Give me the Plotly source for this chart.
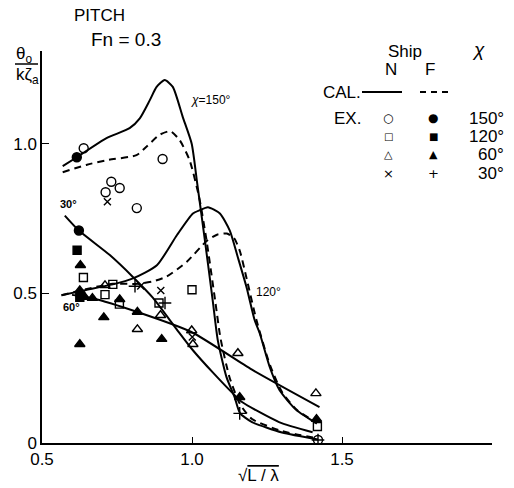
import plotly.graph_objects as go

# ---- measured response data: pitch amplitude vs sqrt(L/lambda), Fn = 0.3 ----
# experiment, ship N (open markers) and ship F (filled markers), per heading chi
n150_x = [0.639, 0.712, 0.731, 0.759, 0.816, 0.902, 1.42]
n150_y = [0.985, 0.838, 0.873, 0.852, 0.785, 0.949, 0.01]
f150_x = [0.616, 0.623]
f150_y = [0.955, 0.71]

n120_x = [0.638, 0.71, 0.736, 0.758, 0.89, 1.0, 1.418]
n120_y = [0.553, 0.496, 0.53, 0.464, 0.468, 0.512, 0.055]
f120_x = [0.617, 0.626]
f120_y = [0.644, 0.487]

n60_x = [0.71, 0.818, 0.895, 0.999, 1.003, 1.153, 1.413]
n60_y = [0.527, 0.38, 0.427, 0.376, 0.33, 0.30, 0.166]
f60_x = [0.628, 0.626, 0.642, 0.668, 0.706, 0.759, 0.818, 0.626, 0.899, 1.159, 1.415]
f60_y = [0.594, 0.51, 0.488, 0.484, 0.42, 0.48, 0.438, 0.33, 0.347, 0.153, 0.08]

n30_x = [0.718, 0.829, 0.896, 1.001]
n30_y = [0.806, 0.525, 0.51, 0.354]
f30_x = [0.81, 0.91, 1.159, 1.42]
f30_y = [0.524, 0.468, 0.099, 0.01]

# calculated curves (solid = ship N, dashed = ship F)
cal150n_x = [0.569, 0.616, 0.715, 0.792, 0.826, 0.859, 0.882, 0.909, 0.936, 0.969, 0.999,
             1.017, 1.04, 1.069, 1.086, 1.115, 1.142, 1.16, 1.2, 1.3, 1.42]
cal150n_y = [0.925, 0.955, 1.019, 1.052, 1.085, 1.145, 1.19, 1.213, 1.19, 1.09, 1.0,
             0.87, 0.70, 0.477, 0.343, 0.22, 0.153, 0.10, 0.07, 0.035, 0.012]
cal150f_x = [0.569, 0.65, 0.715, 0.815, 0.848, 0.892, 0.928, 0.959, 0.992, 1.024,
             1.048, 1.078, 1.095, 1.125, 1.16, 1.2, 1.3, 1.42]
cal150f_y = [0.905, 0.93, 0.945, 0.962, 0.99, 1.03, 1.042, 1.012, 0.945, 0.82,
             0.68, 0.47, 0.35, 0.22, 0.13, 0.08, 0.04, 0.015]

cal120n_x = [0.565, 0.64, 0.736, 0.803, 0.883, 0.95, 1.003, 1.026, 1.053, 1.093, 1.126,
             1.153, 1.182, 1.209, 1.226, 1.259, 1.292, 1.348, 1.416]
cal120n_y = [0.494, 0.51, 0.53, 0.55, 0.594, 0.695, 0.767, 0.778, 0.788, 0.767, 0.71,
             0.62, 0.52, 0.41, 0.366, 0.254, 0.176, 0.11, 0.065]
cal120f_x = [0.565, 0.65, 0.736, 0.82, 0.87, 0.915, 0.982, 1.049, 1.085, 1.116, 1.14,
             1.16, 1.182, 1.215, 1.26, 1.3, 1.35, 1.416]
cal120f_y = [0.494, 0.515, 0.532, 0.532, 0.54, 0.556, 0.605, 0.675, 0.697, 0.70, 0.685,
             0.64, 0.55, 0.41, 0.26, 0.17, 0.11, 0.068]

cal60_x = [0.6, 0.668, 0.818, 0.998, 1.2, 1.425]
cal60_y = [0.495, 0.484, 0.438, 0.371, 0.245, 0.12]

cal30_x = [0.576, 0.623, 0.726, 0.803, 0.87, 0.949, 1.003, 1.07, 1.142, 1.168, 1.29, 1.402]
cal30_y = [0.76, 0.71, 0.628, 0.555, 0.485, 0.38, 0.31, 0.235, 0.16, 0.136, 0.07, 0.036]

x_ticks = [0.5, 1.0, 1.5]
x_tick_text = ["0.5", "1.0", "1.5"]
y_ticks = [0, 0.5, 1.0]
y_tick_text = ["0", "0.5", "1.0"]

# ---- figure geometry (pixels) ----
W, H = 514, 488
L, R, T, B = 42, 22, 51, 45
PW, PH = W - L - R, H - T - B


def px(xp):
    return (xp - L) / PW


def py(yp):
    return 1 - (yp - T) / PH


FONT = "Liberation Sans, Arial, sans-serif"
SYMFONT = "DejaVu Sans"
INK = "black"

fig = go.Figure()


def curve(xs, ys, dash="solid"):
    fig.add_trace(go.Scatter(
        x=xs, y=ys, mode="lines",
        line=dict(color=INK, width=2, dash=dash, shape="spline", smoothing=0.6),
        hoverinfo="skip", showlegend=False))


curve(cal150n_x, cal150n_y)
curve(cal150f_x, cal150f_y, dash="7px,5px")
curve(cal120n_x, cal120n_y)
curve(cal120f_x, cal120f_y, dash="7px,5px")
curve(cal60_x, cal60_y)
curve(cal30_x, cal30_y)


def points(xs, ys, symbol, size):
    fig.add_trace(go.Scatter(
        x=xs, y=ys, mode="markers",
        marker=dict(symbol=symbol, size=size, color=INK,
                    line=dict(color=INK, width=1.4)),
        hoverinfo="skip", showlegend=False))


points(n150_x, n150_y, "circle-open", 9)
points(f150_x, f150_y, "circle", 9)
points(n120_x, n120_y, "square-open", 8)
points(f120_x, f120_y, "square", 8)
points(n60_x, n60_y, "triangle-up-open", 9)
points(f60_x, f60_y, "triangle-up", 9)
points(n30_x, n30_y, "x-thin-open", 7)
points(f30_x, f30_y, "cross-thin-open", 9)

fig.update_layout(
    width=W, height=H,
    margin=dict(l=L, r=R, t=T, b=B, pad=0),
    paper_bgcolor="white", plot_bgcolor="white",
    showlegend=False,
    font=dict(family=FONT, color=INK, size=17),
    xaxis=dict(range=[0.5, 2.0], showgrid=False, zeroline=False,
               showline=True, linecolor=INK, linewidth=1.5,
               ticks="inside", ticklen=6, tickwidth=1.2, tickcolor=INK,
               tickvals=x_ticks, ticktext=x_tick_text,
               tickfont=dict(size=17, family=FONT)),
    yaxis=dict(range=[0, 1.31], showgrid=False, zeroline=False,
               showline=True, linecolor=INK, linewidth=1.5,
               ticks="inside", ticklen=7, tickwidth=1.2, tickcolor=INK,
               tickvals=y_ticks, ticktext=y_tick_text,
               tickfont=dict(size=17, family=FONT)),
)


def label(text, x, y, size=17, xanchor="center", xref="paper", yref="paper", family=FONT):
    fig.add_annotation(text=text, x=x, y=y, xref=xref, yref=yref,
                       xanchor=xanchor, yanchor="middle", showarrow=False,
                       font=dict(size=size, family=family, color=INK))


# titles
label("PITCH", px(99), py(15), size=17)
label("Fn = 0.3", px(126), py(40), size=19)

# y-axis quantity as a fraction
label("θ<sub>o</sub>", px(24), py(55), size=17)
label("kζ<sub>a</sub>", px(27), py(76), size=17)
fig.add_shape(type="line", xref="paper", yref="paper",
              x0=px(15), x1=px(38), y0=py(64), y1=py(64),
              line=dict(color=INK, width=1.5))

# x-axis quantity
label("√<span style='text-decoration:overline'>L / λ</span>", px(258), py(475), size=17)

# curve labels
label("<i>χ</i>=150°", 0.99, 1.146, size=12, xanchor="left", xref="x", yref="y")
label("<b>30°</b>", 0.587, 0.80, size=11, xref="x", yref="y")
label("<b>60°</b>", 0.597, 0.454, size=11, xref="x", yref="y")
label("120°", 1.256, 0.504, size=12, xref="x", yref="y")

# key: ships N/F, calculation and experiment, heading chi
label("Ship", px(405), py(51), size=17)
label("<i>χ</i>", px(478), py(50), size=19)
label("N", px(391), py(70), size=17)
label("F", px(430), py(70), size=17)
label("CAL.", px(342), py(93), size=17)
fig.add_shape(type="line", xref="paper", yref="paper",
              x0=px(362), x1=px(402), y0=py(92), y1=py(92),
              line=dict(color=INK, width=1.8))
fig.add_shape(type="line", xref="paper", yref="paper",
              x0=px(420), x1=px(451), y0=py(92), y1=py(92),
              line=dict(color=INK, width=1.8, dash="6px,5px"))
label("EX.", px(347), py(119), size=17)

key_rows = [("○", "●", "150°", 118, 12), ("□", "■", "120°", 136, 10),
            ("△", "▲", "60°", 154, 11), ("×", "+", "30°", 173, 13)]
for n_sym, f_sym, deg, yp, sz in key_rows:
    label(n_sym, px(388), py(yp), size=sz, family=SYMFONT)
    label(f_sym, px(433), py(yp), size=sz, family=SYMFONT)
    label(deg, px(506), py(yp), size=17, xanchor="right")

fig.write_html("out.html")
